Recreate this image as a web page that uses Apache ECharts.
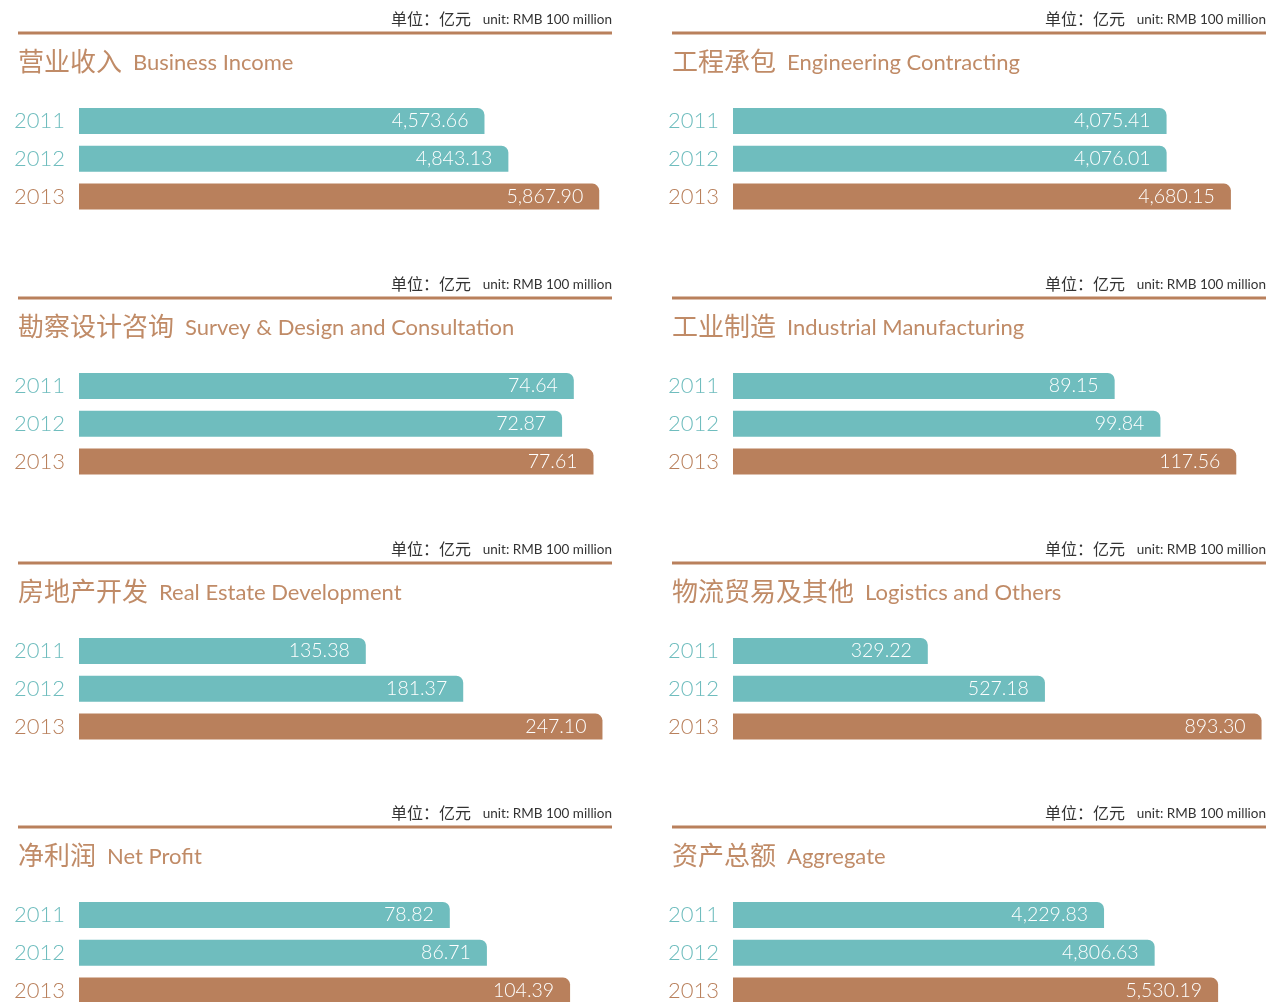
<!DOCTYPE html>
<html><head><meta charset="utf-8">
<script src="https://cdn.jsdelivr.net/npm/echarts@6/dist/echarts.min.js"></script>
<style>html,body{margin:0;padding:0;background:#fff}#c{width:1268px;height:1002px}</style>
</head><body><div id="c"></div>
<script>
const years = ['2011', '2012', '2013'];
const titlesCn = ['营业收入', '工程承包', '勘察设计咨询', '工业制造', '房地产开发', '物流贸易及其他', '净利润', '资产总额'];
const titlesEn = ['Business Income', 'Engineering Contracting', 'Survey & Design and Consultation', 'Industrial Manufacturing', 'Real Estate Development', 'Logistics and Others', 'Net Profit', 'Aggregate'];
const businessIncome = [4573.66, 4843.13, 5867.90];
const engineering = [4075.41, 4076.01, 4680.15];
const survey = [74.64, 72.87, 77.61];
const industrial = [89.15, 99.84, 117.56];
const realEstate = [135.38, 181.37, 247.10];
const logistics = [329.22, 527.18, 893.30];
const netProfit = [78.82, 86.71, 104.39];
const aggregate = [4229.83, 4806.63, 5530.19];
const axisMax = [6012, 5010, 80.4, 124.5, 251.6, 900.8, 113.3, 6076];
const unitCn = '单位：亿元';
const unitEn = 'unit: RMB 100 million';

const seriesData = [businessIncome, engineering, survey, industrial, realEstate, logistics, netProfit, aggregate];
const TEAL = '#6fbdbe', BROWN = '#b9805c', TITLE = '#c08b67';
const rowY = [0, 265, 530, 794];
const colX = [18, 672];

const grids = [], xAxes = [], yAxes = [], series = [], titles = [], graphics = [];
seriesData.forEach((vals, i) => {
  const col = i % 2, row = Math.floor(i / 2);
  const x0 = colX[col], y0 = rowY[row];
  grids.push({left: x0 + 61, width: 533, top: y0 + 121, height: 75.6});
  xAxes.push({type: 'value', gridIndex: i, min: 0, max: axisMax[i], show: false});
  yAxes.push({type: 'category', gridIndex: i, data: years, inverse: true, boundaryGap: false,
    axisLine: {show: false}, axisTick: {show: false}, splitLine: {show: false},
    axisLabel: {margin: 14, fontSize: 22, fontWeight: 300, fontFamily: 'Lato, "Open Sans", sans-serif',
      color: (v, idx) => idx === 2 ? BROWN : TEAL}});
  series.push({type: 'bar', xAxisIndex: i, yAxisIndex: i, barWidth: 26,
    data: vals.map((v, k) => ({value: v, itemStyle: {color: k === 2 ? BROWN : TEAL}})),
    itemStyle: {borderRadius: [0, 7, 0, 0]},
    label: {show: true, position: 'insideRight', distance: 16, color: '#fff', fontSize: 19.5, fontWeight: 300,
      fontFamily: 'Lato, "Open Sans", sans-serif',
      formatter: p => p.value.toLocaleString('en-US', {minimumFractionDigits: 2, maximumFractionDigits: 2})}
  });
  titles.push({left: x0, top: y0 + 48, padding: 0, text: '{cn|' + titlesCn[i] + '} {en|' + titlesEn[i] + '}',
    textStyle: {fontWeight: 'normal', rich: {
      cn: {fontSize: 26, fontWeight: 'normal', color: TITLE, fontFamily: '"Noto Sans CJK SC", sans-serif'},
      en: {fontSize: 22, fontWeight: 'normal', color: TITLE, fontFamily: 'Lato, "Open Sans", sans-serif', padding: [4, 0, 0, 6]}
    }}});
  graphics.push({type: 'rect', shape: {x: x0, y: y0 + 31.5, width: 594, height: 3}, style: {fill: BROWN}});
  graphics.push({type: 'text', x: x0 + 594, y: y0 + 20, style: {text: unitEn, align: 'right', verticalAlign: 'middle',
    fontSize: 13.5, fill: '#333', fontFamily: 'Lato, "Open Sans", sans-serif'}});
  graphics.push({type: 'text', x: x0 + 453, y: y0 + 19, style: {text: unitCn, align: 'right', verticalAlign: 'middle',
    fontSize: 16, fill: '#333', fontFamily: '"Noto Sans CJK SC", sans-serif'}});
});

const chart = echarts.init(document.getElementById('c'), null, {renderer: 'canvas'});
chart.setOption({animation: false, title: titles, grid: grids, xAxis: xAxes, yAxis: yAxes, series: series, graphic: graphics});
</script></body></html>
